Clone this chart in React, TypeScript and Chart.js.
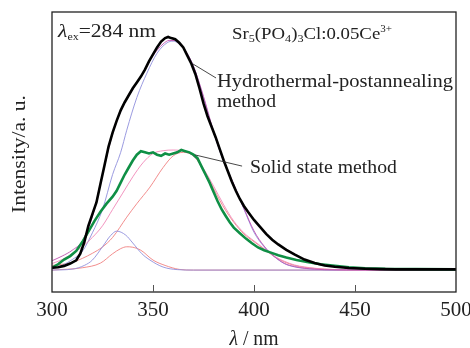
import React, { useEffect, useRef } from 'react';
import { Chart, registerables } from 'chart.js';

Chart.register(...registerables);

// ---------------- data (wavelength nm, intensity a.u.) ----------------
const xTicks = [300, 350, 400, 450, 500];

const hydroWl = [300, 303, 306, 309, 312, 314, 316, 318, 320, 322, 324, 326, 328, 330, 332, 334, 336, 338, 340, 342, 344, 346, 348, 350, 352, 354, 356, 357.5, 359, 361, 363, 365, 367, 369, 371, 373, 375, 377, 379, 381, 383, 385, 387, 389, 391, 393, 395, 397, 400, 403, 406, 409, 412, 416, 420, 425, 430, 435, 440, 447, 455, 462, 470, 480, 490, 500];
const hydroInt = [0.01, 0.012, 0.018, 0.028, 0.042, 0.07, 0.12, 0.19, 0.24, 0.29, 0.37, 0.45, 0.53, 0.59, 0.64, 0.685, 0.72, 0.75, 0.78, 0.805, 0.83, 0.86, 0.895, 0.925, 0.955, 0.98, 0.995, 1.0, 0.995, 0.99, 0.975, 0.955, 0.92, 0.885, 0.84, 0.78, 0.715, 0.66, 0.615, 0.57, 0.52, 0.47, 0.425, 0.38, 0.34, 0.305, 0.275, 0.25, 0.215, 0.185, 0.155, 0.13, 0.11, 0.087, 0.067, 0.045, 0.03, 0.02, 0.014, 0.009, 0.006, 0.004, 0.003, 0.003, 0.003, 0.003];

const solidWl = [300, 303, 306, 309, 312, 315, 318, 321, 324, 327, 330, 332, 334, 336, 338, 340, 342, 344, 346, 348, 350, 352, 354, 356, 358, 360, 362, 364, 366, 368, 370, 372, 374, 376, 378, 380, 382, 384, 386, 388, 390, 393, 396, 399, 402, 405, 408, 412, 416, 421, 427, 433, 440, 447, 455, 465, 480, 500];
const solidInt = [0.01, 0.025, 0.045, 0.06, 0.082, 0.12, 0.165, 0.21, 0.25, 0.285, 0.315, 0.34, 0.375, 0.41, 0.44, 0.47, 0.495, 0.51, 0.505, 0.5, 0.505, 0.495, 0.49, 0.5, 0.495, 0.5, 0.505, 0.515, 0.51, 0.505, 0.495, 0.48, 0.445, 0.41, 0.375, 0.335, 0.295, 0.26, 0.232, 0.205, 0.182, 0.158, 0.135, 0.115, 0.097, 0.085, 0.076, 0.064, 0.054, 0.043, 0.034, 0.025, 0.018, 0.012, 0.008, 0.005, 0.004, 0.003];

// Gaussian fit components
const hydroFit1Wl = [300, 305, 310, 315, 320, 325, 330, 334, 337, 342, 347, 352, 357, 360, 363, 366, 370, 375, 380, 385, 390, 395, 400, 405, 410, 415, 420, 428, 440, 500];
const hydroFit1Int = [0.005, 0.02, 0.045, 0.08, 0.16, 0.26, 0.41, 0.505, 0.6, 0.74, 0.845, 0.93, 0.975, 0.982, 0.97, 0.94, 0.875, 0.74, 0.59, 0.465, 0.365, 0.262, 0.162, 0.1, 0.058, 0.028, 0.014, 0.005, 0.001, 0];

const hydroFit2Wl = [300, 310, 316, 320, 325, 329, 332, 336.5, 340, 344.5, 348.5, 355, 362, 370, 500];
const hydroFit2Int = [0, 0.004, 0.02, 0.043, 0.1, 0.148, 0.167, 0.15, 0.116, 0.07, 0.043, 0.013, 0.002, 0, 0];

const hydroSumWl = [300, 305, 310, 315, 320, 325, 330, 335, 340, 345, 350, 355, 358, 361, 365, 370, 375, 380, 385, 390, 395, 400, 405, 410, 415, 420, 430, 440, 500];
const hydroSumInt = [0.04, 0.06, 0.085, 0.125, 0.23, 0.41, 0.585, 0.7, 0.775, 0.845, 0.92, 0.97, 0.985, 0.985, 0.955, 0.875, 0.745, 0.595, 0.47, 0.368, 0.265, 0.168, 0.103, 0.059, 0.029, 0.015, 0.004, 0.001, 0];

const solidFit1Wl = [300, 305, 309, 315, 320, 325, 330, 337, 342, 348.5, 355, 360, 365, 370, 375, 380, 383, 386, 390, 395, 400, 405, 410, 413, 420, 430, 440, 450, 500];
const solidFit1Int = [0.02, 0.025, 0.03, 0.05, 0.072, 0.099, 0.14, 0.227, 0.285, 0.356, 0.44, 0.49, 0.505, 0.49, 0.43, 0.35, 0.3, 0.255, 0.205, 0.155, 0.122, 0.09, 0.058, 0.043, 0.02, 0.007, 0.002, 0, 0];

const solidFit2Wl = [300, 315, 324, 330, 334, 337, 340, 344, 350, 356, 363, 370, 500];
const solidFit2Int = [0, 0.01, 0.03, 0.07, 0.092, 0.1, 0.098, 0.085, 0.043, 0.02, 0.003, 0, 0];

const solidSumWl = [300, 305, 310, 315, 320, 325, 330, 335, 340, 345, 350, 355, 360, 365, 370, 375, 380, 385, 390, 395, 400, 405, 410, 415, 420, 430, 440, 450, 500];
const solidSumInt = [0.028, 0.045, 0.07, 0.1, 0.14, 0.19, 0.26, 0.33, 0.4, 0.46, 0.5, 0.512, 0.515, 0.51, 0.49, 0.435, 0.36, 0.28, 0.21, 0.16, 0.125, 0.092, 0.06, 0.038, 0.022, 0.008, 0.002, 0, 0];

// annotation anchors in data coordinates [wavelength, intensity]
const hydroLeader = [[369.8, 0.884], [381.2, 0.824]];
const solidLeader = [[370.8, 0.494], [394.1, 0.446]];

const SERIF = '"Liberation Serif", "Times New Roman", serif';

type Seg = { t: string; size: number; dy?: number; italic?: boolean };

function segWidth(ctx: CanvasRenderingContext2D, segs: Seg[]) {
  let w = 0;
  for (const s of segs) {
    ctx.font = `${s.italic ? 'italic ' : ''}${s.size}px ${SERIF}`;
    w += ctx.measureText(s.t).width;
  }
  return w;
}

function drawRich(ctx: CanvasRenderingContext2D, segs: Seg[], x: number, y: number, targetW: number, align: 'left' | 'center' = 'left') {
  const w = segWidth(ctx, segs);
  const sx = targetW / w;
  ctx.save();
  ctx.translate(x, y);
  ctx.scale(sx, 1);
  ctx.textBaseline = 'alphabetic';
  ctx.textAlign = 'left';
  let cx = align === 'center' ? -w / 2 : 0;
  for (const s of segs) {
    ctx.font = `${s.italic ? 'italic ' : ''}${s.size}px ${SERIF}`;
    ctx.fillText(s.t, cx, s.dy || 0);
    cx += ctx.measureText(s.t).width;
  }
  ctx.restore();
}

const toPts = (xs: number[], ys: number[]) => xs.map((v, i) => ({ x: v, y: ys[i] }));

const decorPlugin = {
  id: 'decor',
  afterDraw(chart: any) {
    const { ctx, chartArea: a, scales } = chart;
    const xs = scales.x;
    const ys = scales.y;
    ctx.save();
    // frame
    ctx.strokeStyle = '#222';
    ctx.lineWidth = 1.3;
    ctx.strokeRect(a.left, a.top, a.right - a.left, a.bottom - a.top);
    // inside tick marks
    ctx.strokeStyle = '#555';
    ctx.lineWidth = 1;
    for (const t of xs.ticks) {
      if (t.value > xs.min && t.value < xs.max) {
        const px = Math.round(xs.getPixelForValue(t.value)) + 0.5;
        ctx.beginPath();
        ctx.moveTo(px, a.bottom);
        ctx.lineTo(px, a.bottom - 7);
        ctx.stroke();
      }
    }
    // leader lines
    ctx.strokeStyle = '#333';
    ctx.lineWidth = 0.9;
    for (const L of [hydroLeader, solidLeader]) {
      ctx.beginPath();
      ctx.moveTo(xs.getPixelForValue(L[0][0]), ys.getPixelForValue(L[0][1]));
      ctx.lineTo(xs.getPixelForValue(L[1][0]), ys.getPixelForValue(L[1][1]));
      ctx.stroke();
    }
    ctx.fillStyle = '#222';
    const P = (wl: number, v: number) => [xs.getPixelForValue(wl), ys.getPixelForValue(v)];
    // lambda_ex label
    let p = P(303.0, 1.0);
    drawRich(ctx, [
      { t: 'λ', size: 18, italic: true },
      { t: 'ex', size: 10, dy: 3 },
      { t: '=284 nm', size: 18 },
    ], p[0], p[1], 98);
    // formula
    p = P(389.1, 0.991);
    drawRich(ctx, [
      { t: 'Sr', size: 17 },
      { t: '5', size: 11, dy: 3 },
      { t: '(PO', size: 17 },
      { t: '4', size: 11, dy: 3 },
      { t: ')', size: 17 },
      { t: '3', size: 11, dy: 3 },
      { t: 'Cl:0.05Ce', size: 17 },
      { t: '3+', size: 10, dy: -7 },
    ], p[0], p[1], 160);
    p = P(381.7, 0.785);
    drawRich(ctx, [{ t: 'Hydrothermal-postannealing', size: 19 }], p[0], p[1], 236);
    p = P(381.7, 0.70);
    drawRich(ctx, [{ t: 'method', size: 19 }], p[0], p[1], 59);
    p = P(398.0, 0.416);
    drawRich(ctx, [{ t: 'Solid state method', size: 19 }], p[0], p[1], 147);
    // axis titles
    drawRich(ctx, [{ t: 'λ', size: 20, italic: true }, { t: ' / nm', size: 20 }], (a.left + a.right) / 2, a.bottom + 53, 49, 'center');
    ctx.save();
    ctx.translate(a.left - 27, (a.top + a.bottom) / 2 + 2);
    ctx.rotate(-Math.PI / 2);
    drawRich(ctx, [{ t: 'Intensity/a. u.', size: 19 }], 0, 0, 118, 'center');
    ctx.restore();
    ctx.restore();
  },
};

export default function App() {
  const ref = useRef<HTMLCanvasElement>(null);
  useEffect(() => {
    document.body.style.margin = '0';
    const thin = (label: string, xs: number[], ys: number[], color: string) => ({
      label,
      data: toPts(xs, ys),
      borderColor: color,
      borderWidth: 0.9,
      pointRadius: 0,
      fill: false,
      cubicInterpolationMode: 'monotone' as const,
    });
    const chart = new Chart(ref.current!, {
      type: 'line',
      data: {
        datasets: [
          { label: 'Hydrothermal-postannealing method', data: toPts(hydroWl, hydroInt), borderColor: '#000000', borderWidth: 2.6, pointRadius: 0, tension: 0, fill: false },
          { label: 'Solid state method', data: toPts(solidWl, solidInt), borderColor: '#0f8f45', borderWidth: 2.6, pointRadius: 0, tension: 0, fill: false },
          thin('Hydro fit sum', hydroSumWl, hydroSumInt, '#c050b0'),
          thin('Solid fit sum', solidSumWl, solidSumInt, '#f088b8'),
          thin('Hydro fit 1', hydroFit1Wl, hydroFit1Int, '#9090dc'),
          thin('Hydro fit 2', hydroFit2Wl, hydroFit2Int, '#9090dc'),
          thin('Solid fit 1', solidFit1Wl, solidFit1Int, '#f08080'),
          thin('Solid fit 2', solidFit2Wl, solidFit2Int, '#f08080'),
        ],
      },
      options: {
        responsive: false,
        animation: false,
        devicePixelRatio: 1,
        layout: { padding: { left: 52, right: 14, top: 12, bottom: 0 } },
        plugins: { legend: { display: false }, tooltip: { enabled: false } },
        scales: {
          x: {
            type: 'linear',
            min: 300,
            max: 500,
            afterBuildTicks: (s: any) => { s.ticks = xTicks.map((v) => ({ value: v })); },
            ticks: { font: { family: SERIF, size: 21 }, color: '#222', padding: 6, maxRotation: 0, autoSkip: false },
            grid: { display: false, drawTicks: false },
            border: { display: false },
            afterFit: (s: any) => { s.height = 56; s.paddingLeft = 0; s.paddingRight = 0; },
          },
          y: { type: 'linear', min: -0.094, max: 1.107, display: false },
        },
      },
      plugins: [decorPlugin],
    });
    return () => chart.destroy();
  }, []);
  return (
    <div style={{ width: 470, height: 348, background: '#fff' }}>
      <canvas ref={ref} width={470} height={348} style={{ display: 'block' }} />
    </div>
  );
}
